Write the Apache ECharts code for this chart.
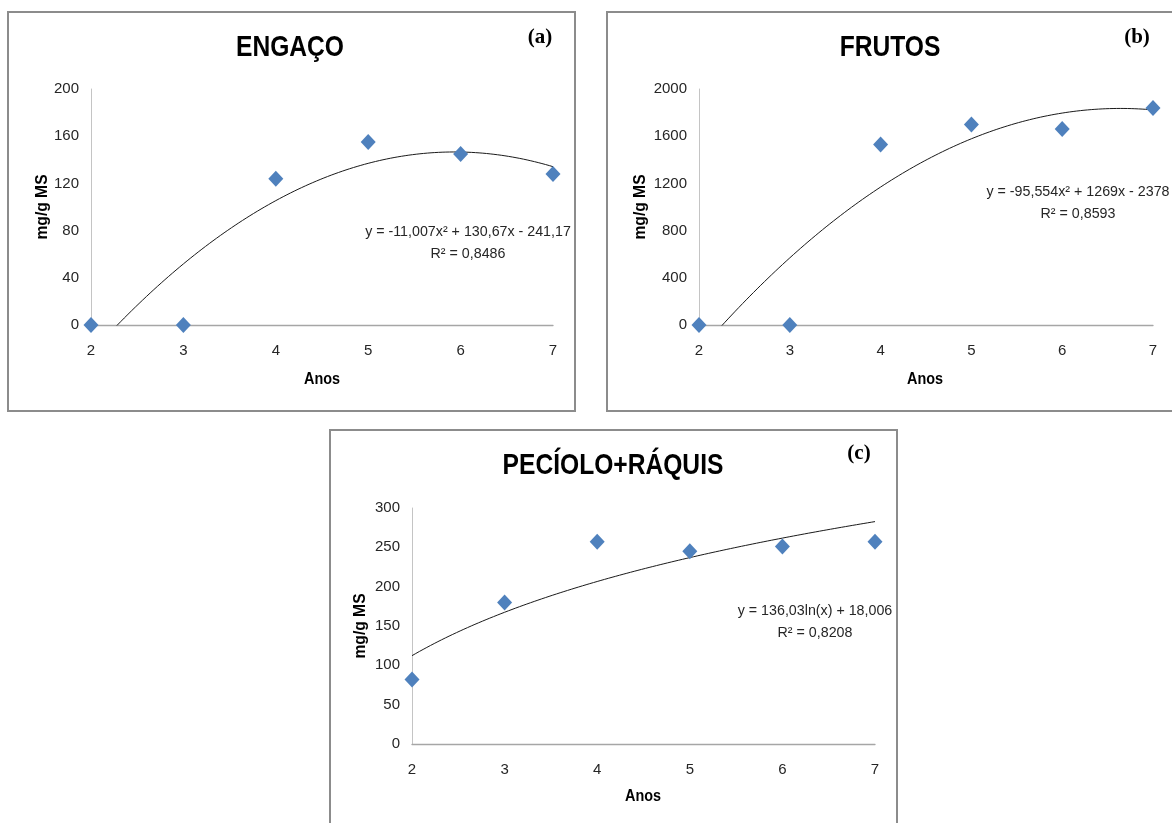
<!DOCTYPE html>
<html>
<head>
<meta charset="utf-8">
<script src="https://cdn.jsdelivr.net/npm/echarts@6/dist/echarts.min.js"></script>
<style>
  html, body { margin: 0; padding: 0; background: #ffffff; }
  #chart { width: 1172px; height: 823px; }
</style>
</head>
<body>
<div id="chart"></div>
<script>
// Measured contents (mg/g MS) by plant age (years)
const years = [2, 3, 4, 5, 6, 7];
const engaco = [0, 0, 124, 155, 145, 128];
const frutos = [0, 0, 1530, 1700, 1660, 1840];
const peciolo = [82, 180, 257, 245, 251, 257];

// Fitted trendline coefficients
const engacoCoef = [-11.007, 130.67, -241.17];   // a x^2 + b x + c
const frutosCoef = [-95.554, 1269, -2378];       // a x^2 + b x + c
const pecioloCoef = [136.03, 18.006];            // a ln(x) + b

// Y axis ranges: [min, max, step]
const engacoTicks = [0, 200, 40];
const frutosTicks = [0, 2000, 400];
const pecioloTicks = [0, 300, 50];

// Panel texts
const titles = ['ENGAÇO', 'FRUTOS', 'PECÍOLO+RÁQUIS'];
const tags = ['(a)', '(b)', '(c)'];
const equations = [
  ['y = -11,007x² + 130,67x - 241,17', 'R² = 0,8486'],
  ['y = -95,554x² + 1269x - 2378', 'R² = 0,8593'],
  ['y = 136,03ln(x) + 18,006', 'R² = 0,8208']
];
const yName = 'mg/g MS';
const xName = 'Anos';

const FONT = "'Liberation Sans', Arial, sans-serif";
const SERIF = "'Liberation Serif', 'Times New Roman', serif";

function quad(c) { return x => c[0] * x * x + c[1] * x + c[2]; }
function logf(c) { return x => c[0] * Math.log(x) + c[1]; }

// Trendline traced along the fitted equation over the plotted year range
function curve(fn) {
  const pts = [];
  for (let i = 0; i <= 250; i++) {
    const x = years[0] + (years[years.length - 1] - years[0]) * i / 250;
    pts.push([x, fn(x)]);
  }
  return pts;
}

const panels = [
  { values: engaco, fit: curve(quad(engacoCoef)), ticks: engacoTicks,
    grid: { left: 91, top: 89, width: 462, height: 236 },
    box: { x: 8, y: 12, width: 567, height: 399 },
    title: [290, 48], tag: [540, 38], eq: [468, 232], yName: [42, 207], xName: [322, 380] },
  { values: frutos, fit: curve(quad(frutosCoef)), ticks: frutosTicks,
    grid: { left: 699, top: 89, width: 454, height: 236 },
    box: { x: 607, y: 12, width: 620, height: 399 },
    title: [890, 48], tag: [1137, 38], eq: [1078, 192], yName: [640, 207], xName: [925, 380] },
  { values: peciolo, fit: curve(logf(pecioloCoef)), ticks: pecioloTicks,
    grid: { left: 412, top: 508, width: 463, height: 236 },
    box: { x: 330, y: 430, width: 567, height: 420 },
    title: [613, 466], tag: [859, 454], eq: [815, 611], yName: [360, 626], xName: [643, 797] }
];

const grids = [], xAxes = [], yAxes = [], series = [], graphics = [];

panels.forEach((p, i) => {
  grids.push(Object.assign({ containLabel: false }, p.grid));
  xAxes.push({
    type: 'value', gridIndex: i, min: years[0], max: years[years.length - 1], interval: 1,
    axisLine: { show: true, onZero: false, lineStyle: { color: '#a6a6a6', width: 1.3 } },
    axisTick: { show: false },
    splitLine: { show: false },
    axisLabel: { color: '#262626', fontFamily: FONT, fontSize: 15, margin: 18,
                 formatter: v => String(v) }
  });
  yAxes.push({
    type: 'value', gridIndex: i, min: p.ticks[0], max: p.ticks[1], interval: p.ticks[2],
    axisLine: { show: true, lineStyle: { color: '#c4c4c4', width: 1 } },
    axisTick: { show: false },
    splitLine: { show: false },
    axisLabel: { color: '#262626', fontFamily: FONT, fontSize: 15, margin: 12,
                 formatter: v => String(v) }
  });
  series.push({
    type: 'line', xAxisIndex: i, yAxisIndex: i, data: p.fit,
    showSymbol: false, smooth: false, clip: true, silent: true,
    lineStyle: { color: '#1a1a1a', width: 1 }, z: 2
  });
  series.push({
    type: 'scatter', xAxisIndex: i, yAxisIndex: i,
    data: years.map((x, k) => [x, p.values[k]]),
    symbol: 'diamond', symbolSize: [15, 16], clip: false,
    itemStyle: { color: '#4f81bd', opacity: 1 }, z: 3
  });

  graphics.push({
    type: 'rect', shape: p.box, z: 0,
    style: { fill: 'none', stroke: '#8c8c8c', lineWidth: 2 }
  });
  graphics.push({
    type: 'text', x: p.title[0], y: p.title[1], scaleX: 0.82,
    style: { text: titles[i], font: 'bold 30px ' + FONT, fill: '#000', textAlign: 'center', textVerticalAlign: 'middle' }
  });
  graphics.push({
    type: 'text', x: p.tag[0], y: p.tag[1],
    style: { text: tags[i], font: 'bold 21px ' + SERIF, fill: '#000', textAlign: 'center', textVerticalAlign: 'middle' }
  });
  graphics.push({
    type: 'text', x: p.eq[0], y: p.eq[1], scaleX: 0.95,
    style: { text: equations[i][0], font: '15px ' + FONT, fill: '#262626', textAlign: 'center', textVerticalAlign: 'middle' }
  });
  graphics.push({
    type: 'text', x: p.eq[0], y: p.eq[1] + 22, scaleX: 0.95,
    style: { text: equations[i][1], font: '15px ' + FONT, fill: '#262626', textAlign: 'center', textVerticalAlign: 'middle' }
  });
  graphics.push({
    type: 'text', x: p.yName[0], y: p.yName[1], rotation: Math.PI / 2, scaleX: 0.92,
    style: { text: yName, font: 'bold 17px ' + FONT, fill: '#000', textAlign: 'center', textVerticalAlign: 'middle' }
  });
  graphics.push({
    type: 'text', x: p.xName[0], y: p.xName[1], scaleX: 0.9,
    style: { text: xName, font: 'bold 16px ' + FONT, fill: '#000', textAlign: 'center', textVerticalAlign: 'middle' }
  });
});

const chart = echarts.init(document.getElementById('chart'), null, { renderer: 'canvas' });
chart.setOption({
  backgroundColor: '#ffffff',
  animation: false,
  grid: grids,
  xAxis: xAxes,
  yAxis: yAxes,
  series: series,
  graphic: graphics
});
</script>
</body>
</html>
